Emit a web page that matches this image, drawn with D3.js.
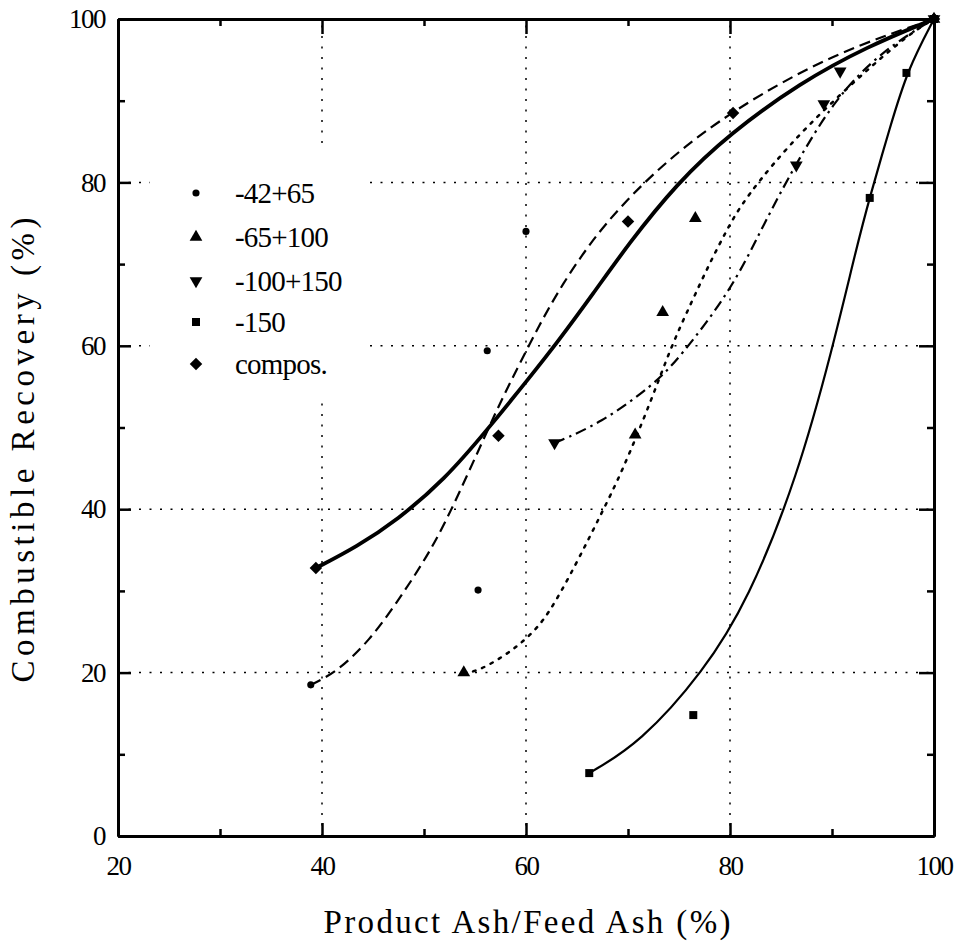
<!DOCTYPE html>
<html>
<head>
<meta charset="utf-8">
<script src="https://cdn.jsdelivr.net/npm/d3@7"></script>
</head>
<body style="margin:0">
<script>
const wSvg = 963, hSvg = 946;
const fontName = "Liberation Serif";

// measured points for each size fraction
const seriesNames = ["-42+65", "-65+100", "-100+150", "-150", "compos."];
const pts4265 = [[38.9, 18.5], [55.3, 30.1], [56.2, 59.4], [60.0, 74.0], [100, 100]];
const pts65100 = [[53.9, 20.0], [70.7, 49.1], [73.4, 64.1], [76.6, 75.6], [100, 100]];
const pts100150 = [[62.8, 48.1], [86.5, 82.1], [89.2, 89.6], [90.8, 93.6], [100, 100]];
const pts150 = [[66.2, 7.7], [76.4, 14.8], [93.7, 78.1], [97.3, 93.4], [100, 100]];
const ptsCompos = [[39.4, 32.8], [57.3, 49.0], [70.0, 75.2], [80.3, 88.5], [100, 100]];

// fitted curves
const fit4265 = [[38.9, 18.5], [41.5, 20.1], [44.7, 24.0], [47.3, 28.5], [49.9, 33.4], [52.3, 38.7],
  [56.8, 51.3], [58.6, 55.9], [61.4, 62.8], [63.6, 67.6], [66.3, 72.6], [69.2, 77.0], [73.8, 82.7],
  [80.3, 88.9], [90.1, 95.8], [100, 100]];
const fit65100 = [[53.9, 20.0], [55.2, 20.1], [58.1, 22.2], [60.1, 24.2], [62.1, 26.8], [65.0, 33.5],
  [67.2, 39.0], [69.4, 44.5], [72.4, 53.7], [74.2, 59.8], [76.1, 65.0], [78.0, 70.1], [79.7, 74.2],
  [81.3, 77.8], [86.9, 86.4], [96.9, 97.7], [100, 100]];
const fit100150 = [[62.8, 48.1], [67.3, 50.5], [72.5, 55.2], [75.1, 58.6], [80.0, 66.6], [82.9, 73.8],
  [85.4, 79.9], [90.1, 90.1], [95.0, 96.2], [100, 100]];
const fit150 = [[66.2, 7.7], [71.2, 11.4], [77.4, 20.1], [81.8, 28.9], [86.6, 43.9], [90.1, 59.9],
  [92.4, 72.0], [93.7, 78.2], [95.7, 86.8], [97.4, 93.8], [100, 100]];
const fitCompos = [[39.4, 32.8], [43.4, 35.4], [47.4, 38.7], [52.0, 43.6], [56.2, 49.7], [60.4, 56.2],
  [63.0, 60.3], [66.6, 66.4], [70.0, 72.4], [74.8, 79.9], [80.0, 86.0], [86.9, 92.2], [93.4, 96.6], [100, 100]];

const xMajor = [20, 40, 60, 80, 100];
const xMinor = [30, 50, 70, 90];
const yMajor = [0, 20, 40, 60, 80, 100];
const yMinor = [10, 30, 50, 70, 90];

const svg = d3.select("body").append("svg")
    .attr("width", wSvg)
    .attr("height", hSvg);

let x = d3.scaleLinear().domain([20, 100]).range([118, 934]);
let y = d3.scaleLinear().domain([0, 100]).range([836, 19]);

// grid
let gGrid = svg.append("g")
    .attr("stroke", "#000")
    .attr("stroke-width", 1.5)
    .attr("stroke-dasharray", "2,8.5");
gGrid.selectAll(".gx")
    .data([40, 60, 80])
    .enter()
    .append("line")
    .attr("x1", d => x(d)).attr("x2", d => x(d))
    .attr("y1", y(0)).attr("y2", y(100));
gGrid.selectAll(".gy")
    .data([20, 40, 60, 80])
    .enter()
    .append("line")
    .attr("y1", d => y(d)).attr("y2", d => y(d))
    .attr("x1", x(20)).attr("x2", x(100));

// legend box hides the grid behind it
svg.append("rect")
    .attr("x", 150).attr("y", 150)
    .attr("width", 217).attr("height", 248)
    .attr("fill", "white");

// axes (ticks inside)
function styleAxis(g) {
    g.attr("font-family", fontName).attr("font-size", 27);
    g.select(".domain").attr("stroke-width", 3);
    g.selectAll(".tick line").attr("stroke-width", 2.5);
    g.selectAll("text")
        .attr("font-family", fontName)
        .attr("font-size", 27)
        .attr("letter-spacing", -1.5)
        .attr("fill", "#000");
}

svg.append("g")
    .attr("transform", `translate(0, ${y(0)})`)
    .call(d3.axisBottom(x).tickValues(xMajor).tickSize(-13).tickSizeOuter(0).tickPadding(20).tickFormat(d3.format("d")))
    .call(styleAxis);
svg.append("g")
    .attr("transform", `translate(0, ${y(0)})`)
    .call(d3.axisBottom(x).tickValues(xMinor).tickSize(-7).tickSizeOuter(0).tickFormat(""))
    .call(styleAxis);
svg.append("g")
    .attr("transform", `translate(0, ${y(100)})`)
    .call(d3.axisTop(x).tickValues(xMajor).tickSize(-15).tickSizeOuter(0).tickFormat(""))
    .call(styleAxis);
svg.append("g")
    .attr("transform", `translate(0, ${y(100)})`)
    .call(d3.axisTop(x).tickValues(xMinor).tickSize(-7).tickSizeOuter(0).tickFormat(""))
    .call(styleAxis);

svg.append("g")
    .attr("transform", `translate(${x(20)}, 0)`)
    .call(d3.axisLeft(y).tickValues(yMajor).tickSize(-13).tickSizeOuter(0).tickPadding(13).tickFormat(d3.format("d")))
    .call(styleAxis);
svg.append("g")
    .attr("transform", `translate(${x(20)}, 0)`)
    .call(d3.axisLeft(y).tickValues(yMinor).tickSize(-7).tickSizeOuter(0).tickFormat(""))
    .call(styleAxis);
svg.append("g")
    .attr("transform", `translate(${x(100)}, 0)`)
    .call(d3.axisRight(y).tickValues(yMajor).tickSize(-15).tickSizeOuter(0).tickFormat(""))
    .call(styleAxis);
svg.append("g")
    .attr("transform", `translate(${x(100)}, 0)`)
    .call(d3.axisRight(y).tickValues(yMinor).tickSize(-7).tickSizeOuter(0).tickFormat(""))
    .call(styleAxis);

// axis titles
svg.append("text")
    .attr("x", 527).attr("y", 933)
    .attr("text-anchor", "middle")
    .attr("font-family", fontName)
    .attr("font-size", 33)
    .attr("textLength", 407)
    .attr("lengthAdjust", "spacing")
    .text("Product Ash/Feed Ash (%)");

svg.append("text")
    .attr("transform", "translate(34, 450) rotate(-90)")
    .attr("text-anchor", "middle")
    .attr("font-family", fontName)
    .attr("font-size", 33)
    .attr("textLength", 465)
    .attr("lengthAdjust", "spacing")
    .text("Combustible Recovery (%)");

// curves
let line = d3.line()
    .x(d => x(d[0]))
    .y(d => y(d[1]))
    .curve(d3.curveBasis);

let fits = [fit4265, fit65100, fit100150, fit150, fitCompos];
let dashes = ["11,6", "2.5,7", "11,5,2.5,5", null, null];
let widths = [2.2, 2.5, 2.2, 2.2, 3.8];

let gLines = svg.append("g");
gLines.selectAll("path")
    .data(fits)
    .enter()
    .append("path")
    .attr("d", line)
    .attr("fill", "none")
    .attr("stroke", "#000")
    .attr("stroke-width", (d, i) => widths[i])
    .attr("stroke-linecap", (d, i) => i === 1 ? "round" : "butt")
    .attr("stroke-dasharray", (d, i) => dashes[i]);

// markers
let symbols = [
    d3.symbol().type(d3.symbolCircle).size(40),
    d3.symbol().type(d3.symbolTriangle).size(70),
    d3.symbol().type(d3.symbolTriangle).size(70),
    d3.symbol().type(d3.symbolSquare).size(64),
    d3.symbol().type(d3.symbolSquare).size(78)
];
let rotations = [0, 0, 180, 0, 45];
let allPts = [pts4265, pts65100, pts100150, pts150, ptsCompos];

allPts.forEach((pts, i) => {
    svg.append("g")
        .selectAll("path")
        .data(pts)
        .enter()
        .append("path")
        .attr("d", symbols[i])
        .attr("transform", d => `translate(${x(d[0])}, ${y(d[1])}) rotate(${rotations[i]})`)
        .attr("fill", "#000");
});

// legend
let gLegend = svg.append("g");
let legendY = [193, 237, 281, 322, 364];
seriesNames.forEach((name, i) => {
    gLegend.append("path")
        .attr("d", symbols[i])
        .attr("transform", `translate(196, ${legendY[i]}) rotate(${rotations[i]})`)
        .attr("fill", "#000");
    gLegend.append("text")
        .attr("x", 235)
        .attr("y", legendY[i] + 10)
        .attr("font-family", fontName)
        .attr("font-size", 29)
        .attr("letter-spacing", -0.8)
        .text(name);
});
</script>
</body>
</html>
